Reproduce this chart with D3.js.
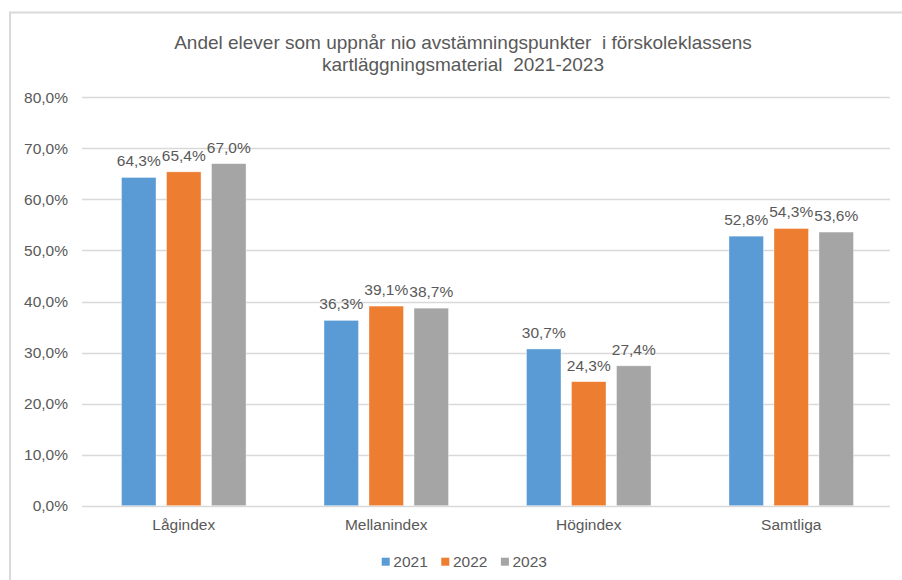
<!DOCTYPE html>
<html><head><meta charset="utf-8">
<script src="https://cdn.jsdelivr.net/npm/d3@7"></script>
<style>body{margin:0;background:#fff}svg{display:block;font-family:"Liberation Sans",Arial,sans-serif}</style>
</head><body>
<svg id="c" width="902" height="580"></svg>
<script>
const categories = ["Lågindex","Mellanindex","Högindex","Samtliga"];
const seriesNames = ["2021","2022","2023"];
const values2021 = [64.3, 36.3, 30.7, 52.8];
const values2022 = [65.4, 39.1, 24.3, 54.3];
const values2023 = [67.0, 38.7, 27.4, 53.6];
const yTicks = [0,10,20,30,40,50,60,70,80];
const colors = ["#5b9bd5","#ed7d31","#a5a5a5"];
const titleLines = ["Andel elever som uppnår nio avstämningspunkter\u00a0 i förskoleklassens","kartläggningsmaterial\u00a0 2021-2023"];

const series = [values2021, values2022, values2023];
const svg = d3.select("#c");
const textColor = "#595959";
const fs = 15.5;
const loc = d3.formatLocale({decimal:",",thousands:"\u00a0",grouping:[3],currency:["","kr"]});
const f1 = loc.format(".1f");

// border
svg.append("rect").attr("x",10).attr("y",12.5).attr("width",900).attr("height",600)
  .attr("fill","none").attr("stroke","#d9d9d9").attr("stroke-width",2);

const y = d3.scaleLinear().domain([0,80]).range([505.7,97.3]);
const x0 = d3.scaleBand().domain(categories).range([82.5,892.5]).paddingInner(0.385).paddingOuter(0.1926);
const x1 = d3.scaleBand().domain(seriesNames).range([0,x0.bandwidth()]).paddingInner(0.2333).paddingOuter(0);

// grid
svg.append("g").selectAll("line").data(yTicks).join("line")
  .attr("x1",82).attr("x2",890)
  .attr("y1",d=>Math.round(y(d))+0.5).attr("y2",d=>Math.round(y(d))+0.5)
  .attr("stroke","#d9d9d9").attr("stroke-width",1.3);

// y labels
svg.append("g").selectAll("text").data(yTicks).join("text")
  .attr("x",68).attr("y",d=>y(d)+5.5).attr("text-anchor","end")
  .attr("font-size",fs).attr("fill",textColor).text(d=>f1(d)+"%");

// bars
const groups = svg.append("g").selectAll("g").data(categories).join("g")
  .attr("transform",d=>`translate(${x0(d)},0)`);
groups.each(function(cat,ci){
  const g = d3.select(this);
  seriesNames.forEach((s,si)=>{
    const v = series[si][ci];
    g.append("rect").attr("x",x1(s)).attr("width",x1.bandwidth())
      .attr("y",y(v)).attr("height",y(0)-y(v)).attr("fill",colors[si])
      .attr("stroke","#ffffff").attr("stroke-opacity",0.5).attr("stroke-width",0.75);
    g.append("text").attr("x",x1(s)+x1.bandwidth()/2).attr("y",y(v)-11)
      .attr("text-anchor","middle").attr("font-size",fs).attr("fill",textColor)
      .text(f1(v)+"%");
  });
});

// x labels
svg.append("g").selectAll("text").data(categories).join("text")
  .attr("x",d=>x0(d)+x0.bandwidth()/2).attr("y",530).attr("text-anchor","middle")
  .attr("font-size",fs).attr("fill",textColor).text(d=>d);

// title
svg.append("g").selectAll("text").data(titleLines).join("text")
  .attr("x",463).attr("y",(d,i)=>48.5+i*22).attr("text-anchor","middle")
  .attr("font-size",19).attr("fill",textColor).text(d=>d);

// legend
const leg = svg.append("g").selectAll("g").data(seriesNames).join("g")
  .attr("transform",(d,i)=>`translate(${381.7+i*59.6},0)`);
leg.append("rect").attr("x",0).attr("y",557.7).attr("width",8).attr("height",8).attr("fill",(d,i)=>colors[i]);
leg.append("text").attr("x",11.6).attr("y",567).attr("font-size",fs).attr("fill",textColor).text(d=>d);
</script>
</body></html>
